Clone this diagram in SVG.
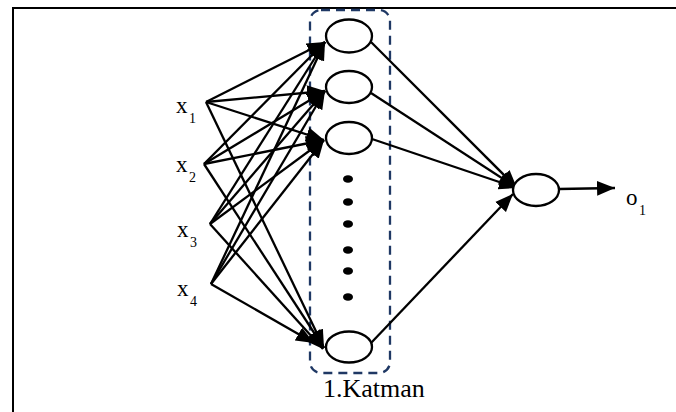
<svg xmlns="http://www.w3.org/2000/svg" width="676" height="412" viewBox="0 0 676 412">
<style>
.frame{fill:none;stroke:#000;stroke-width:2}
.node{fill:#fff;stroke:#000;stroke-width:2.3}
.dot{fill:#000}
.conn line{stroke:#000;stroke-width:2.3;marker-end:url(#ah)}
.layer{fill:none;stroke:#1f3864;stroke-width:2.3;stroke-dasharray:9 6}
</style>
<defs>
<marker id="ah" markerUnits="userSpaceOnUse" markerWidth="19" markerHeight="15" viewBox="0 0 18 14" refX="17" refY="7" orient="auto">
<path d="M0,0 L17,7 L0,14 z" fill="#000"/>
</marker>
</defs>
<g id="frame">
<path class="frame" d="M13,412 V8 H676"/>
</g>
<g id="layer1">
<rect class="layer" x="310" y="10" width="80" height="363" rx="11"/>
<text x="323" y="397" font-family="Liberation Serif, Times New Roman, serif" font-size="26" fill="#000">1.Katman</text>
</g>
<g id="connectors" class="conn">
<line x1="206" y1="102" x2="325" y2="42"/>
<line x1="206" y1="102" x2="325" y2="91"/>
<line x1="206" y1="102" x2="324" y2="140"/>
<line x1="206" y1="102" x2="324" y2="348"/>
<line x1="204" y1="164" x2="325" y2="42"/>
<line x1="204" y1="164" x2="325" y2="91"/>
<line x1="204" y1="164" x2="324" y2="140"/>
<line x1="204" y1="164" x2="324" y2="348"/>
<line x1="210" y1="224" x2="325" y2="42"/>
<line x1="210" y1="224" x2="325" y2="91"/>
<line x1="210" y1="224" x2="324" y2="140"/>
<line x1="210" y1="224" x2="323" y2="349"/>
<line x1="211" y1="284" x2="325" y2="42"/>
<line x1="211" y1="284" x2="325" y2="91"/>
<line x1="211" y1="284" x2="324" y2="140"/>
<line x1="211" y1="284" x2="314" y2="343"/>
<line x1="371" y1="42" x2="517" y2="188"/>
<line x1="371" y1="93" x2="517" y2="188"/>
<line x1="372" y1="139" x2="517" y2="188"/>
<line x1="371" y1="343" x2="513" y2="194"/>
<line x1="559" y1="189" x2="615" y2="188"/>
</g>
<g id="labels" font-family="Liberation Serif, Times New Roman, serif" fill="#000">
<g id="in1"><text x="176" y="113" font-size="23">x</text><text x="189" y="123" font-size="14">1</text></g>
<g id="in2"><text x="176" y="172" font-size="23">x</text><text x="189" y="182" font-size="14">2</text></g>
<g id="in3"><text x="177" y="237" font-size="23">x</text><text x="190" y="247" font-size="14">3</text></g>
<g id="in4"><text x="177" y="296" font-size="23">x</text><text x="190" y="306" font-size="14">4</text></g>
<g id="o1"><text x="626" y="205" font-size="23">o</text><text x="639" y="215" font-size="14">1</text></g>
</g>
<g id="h1"><ellipse class="node" cx="349" cy="36" rx="23" ry="16.5"/></g>
<g id="h2"><ellipse class="node" cx="349" cy="87" rx="23" ry="16"/></g>
<g id="h3"><ellipse class="node" cx="349" cy="138" rx="23" ry="16"/></g>
<g id="dots">
<ellipse class="dot" cx="348" cy="179" rx="5" ry="3.8"/>
<ellipse class="dot" cx="348" cy="202" rx="5" ry="3.8"/>
<ellipse class="dot" cx="348" cy="224" rx="5" ry="3.8"/>
<ellipse class="dot" cx="348" cy="250" rx="5" ry="3.8"/>
<ellipse class="dot" cx="348" cy="271" rx="5" ry="3.8"/>
<ellipse class="dot" cx="348" cy="297" rx="5" ry="3.8"/>
</g>
<g id="h4"><ellipse class="node" cx="349" cy="347" rx="23" ry="15.5"/></g>
<g id="out"><ellipse class="node" cx="536" cy="190" rx="23" ry="16"/></g>
</svg>
